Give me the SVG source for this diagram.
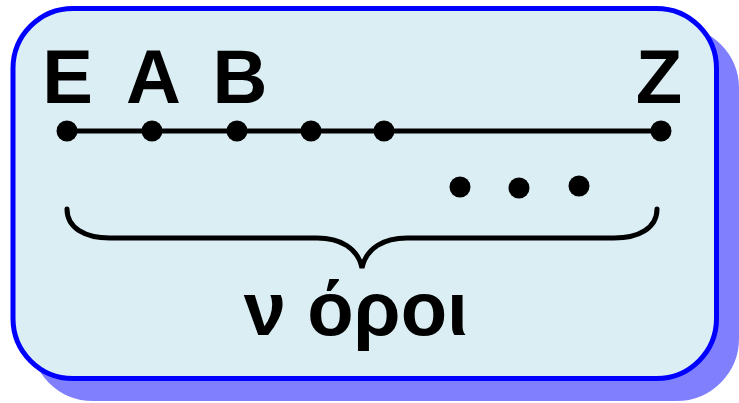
<svg xmlns="http://www.w3.org/2000/svg" width="739" height="403" viewBox="0 0 739 403">
<style>
.lbl{font-family:"Liberation Sans",Arial,sans-serif;font-weight:bold;font-size:76px;fill:#000;text-anchor:middle}
.dot{fill:#000}
.ln{stroke:#000;stroke-width:5;fill:none;stroke-linecap:round}
</style>
<g id="frame">
<rect x="33" y="28.5" width="703.5" height="370" rx="60" fill="#8080ff" stroke="#8080ff" stroke-width="5"/>
<rect x="13" y="8.5" width="703.5" height="370" rx="60" fill="#daeef3" stroke="#0000ff" stroke-width="5"/>
</g>
<g id="connectors">
<line class="ln" x1="67" y1="131" x2="661" y2="131"/>
<path class="ln" d="M67,209 C67,228 85,238 110,238 L317,238 C340,238 358,248 362,268 C366,248 384,238 407,238 L614,238 C639,238 657,228 657,209"/>
</g>
<g id="node-E"><circle class="dot" cx="67" cy="131" r="10.5"/><text class="lbl" x="67.5" y="103">E</text></g>
<g id="node-A"><circle class="dot" cx="152" cy="131" r="10.5"/><text class="lbl" x="153.5" y="103">A</text></g>
<g id="node-B"><circle class="dot" cx="237" cy="131" r="10.5"/><text class="lbl" x="240" y="103">B</text></g>
<g id="node-4"><circle class="dot" cx="311" cy="131" r="10.5"/></g>
<g id="node-5"><circle class="dot" cx="384" cy="131" r="10.5"/></g>
<g id="node-Z"><circle class="dot" cx="661" cy="131" r="10.5"/><text class="lbl" x="659" y="103">Z</text></g>
<g id="ellipsis">
<circle class="dot" cx="460" cy="187" r="10.5"/>
<circle class="dot" cx="519" cy="188" r="10.5"/>
<circle class="dot" cx="579" cy="186" r="10.5"/>
</g>
<g id="label"><text class="lbl" x="356" y="335">ν όροι</text></g>
</svg>
